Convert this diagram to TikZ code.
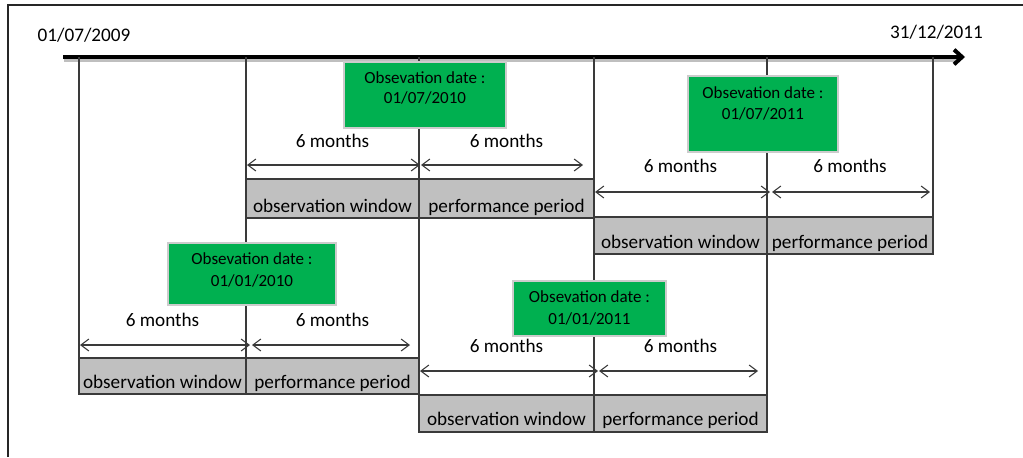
\documentclass[tikz,border=0pt]{standalone}
\usepackage{fontspec}
\setmainfont{Carlito}
\usetikzlibrary{arrows.meta,fit}
\definecolor{obsgreen}{HTML}{00B050}
\definecolor{barfill}{HTML}{C0C0C0}
\definecolor{rulegray}{HTML}{3A3A3A}

\begin{document}
\begin{tikzpicture}[x=0.75pt,y=-0.75pt,
  frame/.style={line width=1.5pt, black!85},
  timeline/.style={line width=3pt, black, -{Straight Barb[length=6pt,width=11pt]}},
  tshadow/.style={line width=3pt, black, opacity=0.25},
  colline/.style={line width=0.8pt, rulegray},
  cell/.style={draw=rulegray, line width=0.8pt, fill=barfill, inner sep=0pt},
  datebox/.style={fill=obsgreen, draw=black!20, line width=0.8pt, inner sep=0pt},
  span/.style={line width=0.8pt, rulegray,
    {Straight Barb[length=6pt,width=9pt]}-{Straight Barb[length=6pt,width=9pt]}},
  lbl/.style={font=\fontsize{14.4}{17}\selectfont, anchor=base, inner sep=0pt},
  boxtxt/.style={font=\fontsize{12.75}{15}\selectfont, anchor=base, inner sep=0pt},
]
\useasboundingbox (0,0) rectangle (1023,457);

% outer frame (top and left edges)
\draw[frame] (8,457) -- (8,5) -- (1023,5);

% time axis
\coordinate (t0) at (63,57);
\coordinate (t1) at (965,57);
\coordinate (s0) at (64,59.5);
\coordinate (s1) at (958,59.5);
\draw[tshadow] (s0) -- (s1);
\draw[timeline] (t0) -- (t1);
\node[lbl] (dstart) at (84,41) {01/07/2009};
\node[lbl] (dend) at (936.5,38) {31/12/2011};

% period boundaries
\foreach \x/\yb [count=\i] in {79/394, 246/394, 419/432, 594/432, 767/432, 933/254}{
  \coordinate (ctop\i) at (\x,57);
  \coordinate (cbot\i) at (\x,\yb);
  \draw[colline] (ctop\i) -- (cbot\i);
}

% window / period bars
\node[cell, fit={(246,179) (419,218)}] (ow1) {};
\node[cell, fit={(419,179) (594,218)}] (pp1) {};
\node[cell, fit={(594,217) (767,254)}] (ow2) {};
\node[cell, fit={(767,217) (933,254)}] (pp2) {};
\node[cell, fit={(79,358) (246,394)}] (ow3) {};
\node[cell, fit={(246,358) (419,394)}] (pp3) {};
\node[cell, fit={(419,395) (594,432)}] (ow4) {};
\node[cell, fit={(594,395) (767,432)}] (pp4) {};

\node[lbl] (ow1t) at (332.5,212) {observation window};
\node[lbl] (pp1t) at (506.5,212) {performance period};
\node[lbl] (ow2t) at (680.5,248) {observation window};
\node[lbl] (pp2t) at (850,248) {performance period};
\node[lbl] (ow3t) at (162.5,388) {observation window};
\node[lbl] (pp3t) at (332.5,388) {performance period};
\node[lbl] (ow4t) at (506.5,425) {observation window};
\node[lbl] (pp4t) at (680.5,425) {performance period};

% six-month spans
\coordinate (a1l) at (247,165); \coordinate (a1m) at (420,165);
\coordinate (b1l) at (421,165); \coordinate (b1r) at (583,165);
\coordinate (a2l) at (595,192); \coordinate (a2m) at (770,192);
\coordinate (b2l) at (772,192); \coordinate (b2r) at (930,192);
\coordinate (a3l) at (80,345);  \coordinate (a3m) at (250,345);
\coordinate (b3l) at (252,345); \coordinate (b3r) at (410,345);
\coordinate (a4l) at (420,371); \coordinate (a4m) at (598,371);
\coordinate (b4l) at (599,371); \coordinate (b4r) at (758,371);
\draw[span] (a1l) -- (a1m);
\draw[span] (b1l) -- (b1r);
\draw[span] (a2l) -- (a2m);
\draw[span] (b2l) -- (b2r);
\draw[span] (a3l) -- (a3m);
\draw[span] (b3l) -- (b3r);
\draw[span] (a4l) -- (a4m);
\draw[span] (b4l) -- (b4r);

\node[lbl] (m1a) at (332.5,147) {6 months};
\node[lbl] (m1b) at (506.5,147) {6 months};
\node[lbl] (m2a) at (680.5,172) {6 months};
\node[lbl] (m2b) at (850,172) {6 months};
\node[lbl] (m3a) at (162.5,326) {6 months};
\node[lbl] (m3b) at (332.5,326) {6 months};
\node[lbl] (m4a) at (506.5,352) {6 months};
\node[lbl] (m4b) at (680.5,352) {6 months};

% observation dates
\node[datebox, fit={(344,62) (506,128)}] (g1) {};
\node[boxtxt] (g1a) at (425,83) {Obsevation date :};
\node[boxtxt] (g1b) at (425,103) {01/07/2010};

\node[datebox, fit={(688,76) (838,152)}] (g2) {};
\node[boxtxt] (g2a) at (763,98) {Obsevation date :};
\node[boxtxt] (g2b) at (763,119) {01/07/2011};

\node[datebox, fit={(168,243) (336,305)}] (g3) {};
\node[boxtxt] (g3a) at (252,264) {Obsevation date :};
\node[boxtxt] (g3b) at (252,286) {01/01/2010};

\node[datebox, fit={(513,281) (666,336)}] (g4) {};
\node[boxtxt] (g4a) at (589.5,302) {Obsevation date :};
\node[boxtxt] (g4b) at (589.5,324) {01/01/2011};
\end{tikzpicture}
\end{document}
